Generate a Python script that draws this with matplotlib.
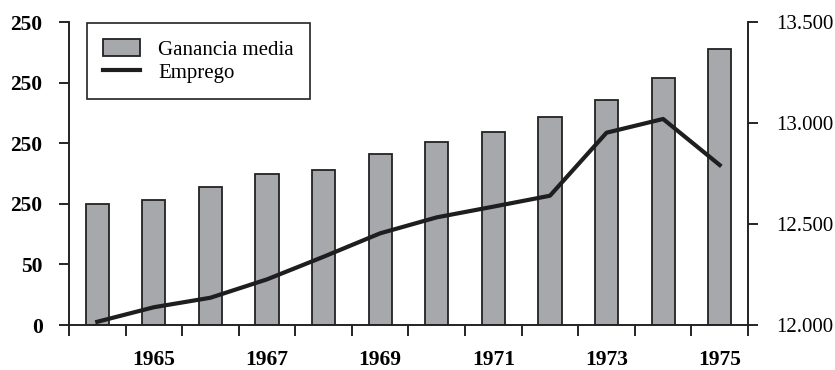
import numpy as np
import matplotlib.pyplot as plt
from matplotlib.ticker import FixedLocator

plt.rcParams['font.family'] = ['Liberation Serif', 'DejaVu Serif']

#%% data

years = list(range(1964, 1976))
ganancia = [100, 103, 114, 125, 128, 141, 151, 159, 172, 186, 204, 228]
emprego = [12016, 12088, 12135, 12226, 12338, 12454, 12533, 12586, 12640, 12952, 13020, 12792]

left_ticks = [0, 50, 100, 150, 200, 250]
left_labels = ["0", "50", "250", "250", "250", "250"]
right_ticks = [12000, 12500, 13000, 13500]
right_labels = ["12.000", "12.500", "13.000", "13.500"]

#%% plot

fig = plt.figure(figsize=(8.35, 3.7), dpi=100)
ax = fig.add_axes([0.0826, 0.1216, 0.8132, 0.8189])

x = np.arange(len(years))
bars = ax.bar(x, ganancia, 0.41, color="#a7a8ac", edgecolor="#222222", linewidth=1.3,
              label="Ganancia media")

ax.set_xlim(-0.5, len(years) - 0.5)
ax.set_ylim(0, 250)
ax.set_yticks(left_ticks)
ax.set_yticklabels(left_labels, fontweight="bold")

# year labels under odd years, tick marks between the bars
label_idx = [i for i, y in enumerate(years) if y % 2 == 1]
ax.set_xticks(label_idx)
ax.set_xticklabels([str(years[i]) for i in label_idx], fontweight="bold")
ax.xaxis.set_minor_locator(FixedLocator(np.arange(-0.5, len(years), 1.0)))
ax.tick_params(axis="x", which="major", length=0, pad=18, labelsize=15.5)
ax.tick_params(axis="x", which="minor", length=8, width=1.2, direction="out")
ax.tick_params(axis="y", length=7, width=1.2, pad=12, labelsize=15.5)

ax2 = ax.twinx()
line, = ax2.plot(x, emprego, color="#1e1e1e", linewidth=3, label="Emprego")
ax2.set_ylim(12000, 13500)
ax2.set_yticks(right_ticks)
ax2.set_yticklabels(right_labels)
ax2.tick_params(axis="y", length=7, width=1.2, pad=13, labelsize=15)

for a in (ax, ax2):
    a.spines["top"].set_visible(False)
    for s in ("left", "right", "bottom"):
        a.spines[s].set_linewidth(1.2)
        a.spines[s].set_color("#222222")

leg = ax2.legend([bars, line], ["Ganancia media", "Emprego"], loc="upper left",
                 bbox_to_anchor=(0.0265, 0.997), borderaxespad=0, fancybox=False,
                 edgecolor="#222222", framealpha=1, fontsize=15, handlelength=1.78,
                 handleheight=0.91, labelspacing=0.1, borderpad=0.77, handletextpad=0.87)
leg.get_frame().set_linewidth(1.2)

fig.savefig("out.png", dpi=100)
